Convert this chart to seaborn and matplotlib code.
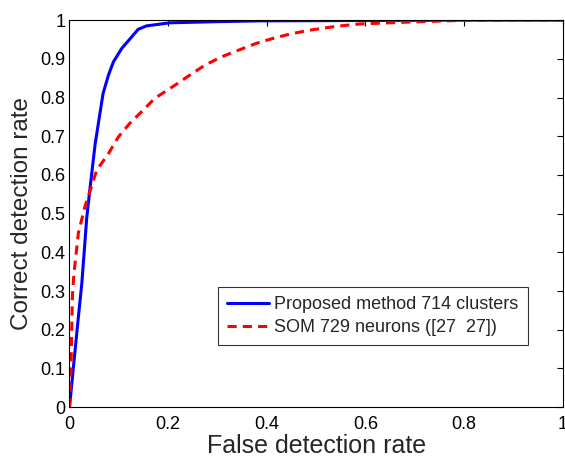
import matplotlib

matplotlib.use("Agg")

import matplotlib.pyplot as plt
import pandas as pd
import seaborn as sns

# ROC points
prop_fdr = [0.0, 0.008, 0.018, 0.025, 0.035, 0.042, 0.052, 0.068, 0.079, 0.089,
            0.106, 0.125, 0.139, 0.156, 0.203, 0.30, 0.385, 0.6, 0.8, 1.0]
prop_cdr = [0.0, 0.104, 0.233, 0.32, 0.49, 0.57, 0.68, 0.81, 0.858, 0.892,
            0.927, 0.955, 0.976, 0.985, 0.993, 0.996, 0.998, 0.999, 1.0, 1.0]

som_fdr = [0.0, 0.003, 0.0044, 0.006, 0.009, 0.018, 0.031, 0.042, 0.055, 0.079,
           0.099, 0.122, 0.149, 0.173, 0.214, 0.244, 0.275, 0.308, 0.342, 0.379,
           0.413, 0.447, 0.487, 0.541, 0.588, 0.689, 0.79, 0.9, 1.0]
som_cdr = [0.0, 0.104, 0.19, 0.29, 0.345, 0.45, 0.517, 0.56, 0.612, 0.655,
           0.698, 0.733, 0.767, 0.798, 0.832, 0.858, 0.884, 0.905, 0.922, 0.94,
           0.953, 0.964, 0.974, 0.984, 0.99, 0.995, 0.999, 1.0, 1.0]

labels = ["Proposed method 714 clusters", "SOM 729 neurons ([27  27])"]

df = pd.concat([
    pd.DataFrame({"fdr": prop_fdr, "cdr": prop_cdr, "method": labels[0]}),
    pd.DataFrame({"fdr": som_fdr, "cdr": som_cdr, "method": labels[1]}),
])

sns.set_style("white")
plt.rcParams["font.family"] = ["Liberation Sans", "DejaVu Sans"]

fig = plt.figure(figsize=(5.65, 4.57), dpi=100)
ax = fig.add_axes([0.123, 0.109, 0.873, 0.847])

sns.lineplot(data=df, x="fdr", y="cdr", hue="method", style="method",
             palette=["#0000ff", "#ff0000"], dashes=[(None, None), (3, 2)],
             linewidth=2.2, sort=False, estimator=None, ax=ax)

ax.set_xlim(0, 1)
ax.set_ylim(0, 1)
ax.set_xticks([0, 0.2, 0.4, 0.6, 0.8, 1])
ax.set_xticklabels(["0", "0.2", "0.4", "0.6", "0.8", "1"])
ax.set_yticks([i / 10 for i in range(11)])
ax.set_yticklabels(["0"] + [f"{i / 10:g}" for i in range(1, 10)] + ["1"])
ax.tick_params(direction="in", top=True, right=True, length=4, width=0.8,
               labelsize=13, colors="black")
ax.tick_params(axis="x", pad=6)
ax.tick_params(axis="y", pad=3)
for s in ax.spines.values():
    s.set_color("black")
    s.set_linewidth(0.8)

ax.set_xlabel("False detection rate", fontsize=18, labelpad=1)
ax.set_ylabel("Correct detection rate", fontsize=17.5, labelpad=5)

leg = ax.legend(loc="lower right", bbox_to_anchor=(0.929, 0.16), fontsize=13,
                frameon=True, fancybox=False, handlelength=2.3,
                handletextpad=0.3, borderpad=0.5, labelspacing=0.35,
                borderaxespad=0)
leg.get_frame().set_edgecolor("black")
leg.get_frame().set_linewidth(0.8)

plt.savefig("out.png", dpi=100)
plt.close()
